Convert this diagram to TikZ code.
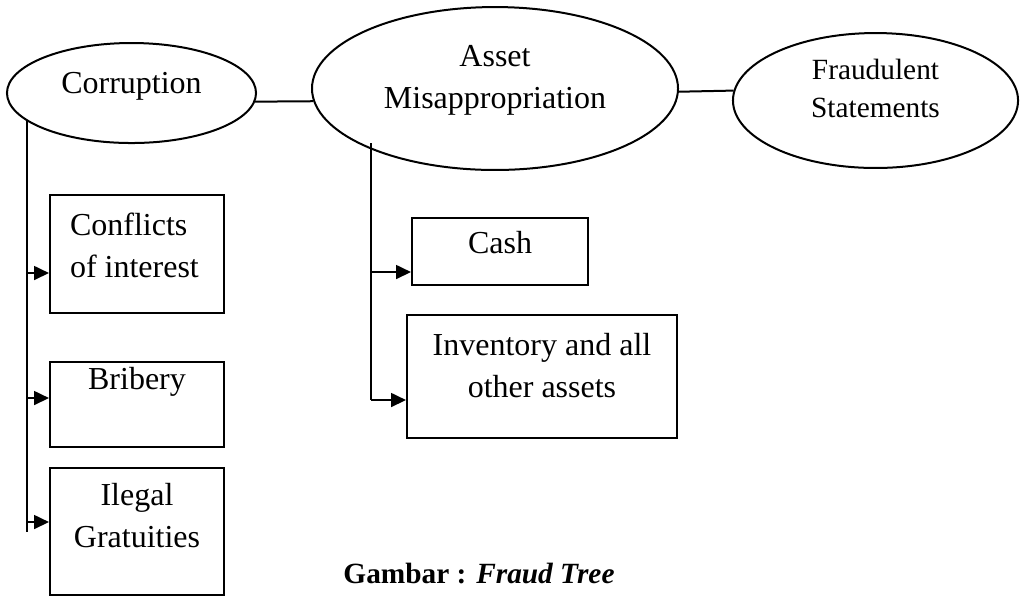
\documentclass[tikz,border=0pt]{standalone}
\usepackage{fontspec}
\setmainfont{Liberation Serif}
\usepackage{tikz}
\usetikzlibrary{shapes.geometric, arrows.meta}

\begin{document}
\begin{tikzpicture}[x=0.375pt, y=-0.375pt, line width=0.75pt,
    font=\fontsize{12}{15.75}\selectfont,
    oval/.style={draw, ellipse, inner sep=0pt},
    leafBox/.style={draw, rectangle, inner sep=0pt},
    txt/.style={inner sep=0pt, align=center},
    branchArrow/.style={-{Triangle[length=5.6pt, width=5.2pt]}}]
    \useasboundingbox (0,0) rectangle (1021,596);
    % the three kinds of fraud
    \node[oval, minimum width=93.4pt, minimum height=37.5pt,
        label={[txt, yshift=2.4pt]center:Corruption}] (corr) at (131.5,93) {};
    \node[oval, minimum width=137.25pt, minimum height=61.1pt,
        label={[txt, yshift=3pt]center:Asset\\Misappropriation}] (asset) at (495,88.5) {};
    \node[oval, minimum width=106.9pt, minimum height=50.6pt,
        label={[txt, yshift=4.7pt, font=\fontsize{11}{14.25}\selectfont]center:Fraudulent\\Statements}] (fraud) at (875.5,100.5) {};
    \draw (corr.-4.7) -- (asset.184.6);
    \draw (asset.-1.1) -- (fraud.176.6);
    % corruption branch
    \node[leafBox, minimum width=65.25pt, minimum height=44.25pt,
        label={[txt, align=left, anchor=north west, xshift=7.5pt, yshift=-6.75pt]north west:Conflicts\\of interest}] (conflict) at (137,254) {};
    \node[leafBox, minimum width=65.25pt, minimum height=31.9pt,
        label={[txt, anchor=north, yshift=-1.9pt]north:Bribery}] (bribery) at (137,404.5) {};
    \node[leafBox, minimum width=65.25pt, minimum height=47.6pt,
        label={[txt, anchor=north, yshift=-5.6pt]north:Ilegal\\Gratuities}] (gratuity) at (137,531.5) {};
    \coordinate (c1) at (27,273);
    \coordinate (c2) at (27,398);
    \coordinate (c3) at (27,522);
    \coordinate (cEnd) at (27,532);
    \draw (corr.195.5) -- (corr.195.5 |- cEnd);
    \draw[branchArrow] (c1) -- (c1 -| conflict.west);
    \draw[branchArrow] (c2) -- (c2 -| bribery.west);
    \draw[branchArrow] (c3) -- (c3 -| gratuity.west);
    % asset misappropriation branch
    \node[leafBox, minimum width=66pt, minimum height=25.1pt,
        label={[txt, anchor=north, yshift=-4.9pt]north:Cash}] (cash) at (500,251.5) {};
    \node[leafBox, minimum width=101.25pt, minimum height=46.1pt,
        label={[txt, anchor=north, yshift=-6.75pt]north:Inventory and all\\other assets}] (inventory) at (542,376.5) {};
    \coordinate (aTop) at (371,143);
    \coordinate (a1) at (371,272);
    \coordinate (a2) at (371,400);
    \draw (aTop) -- (a2);
    \draw[branchArrow] (a1) -- (a1 -| cash.west);
    \draw[branchArrow] (a2) -- (a2 -| inventory.west);
    % caption
    \node[anchor=base, inner sep=0pt, font=\fontsize{11}{13}\selectfont\bfseries] (caption) at (479,583) {Gambar : \textit{Fraud Tree}};
\end{tikzpicture}
\end{document}
